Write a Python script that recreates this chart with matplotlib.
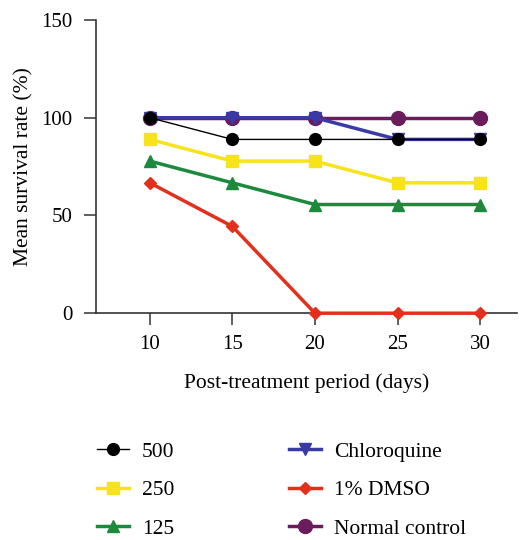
import matplotlib; matplotlib.use("Agg")
import matplotlib.pyplot as plt

plt.rcParams["font.family"] = ["Liberation Serif", "DejaVu Serif"]

days = [10, 15, 20, 25, 30]
d500 = [100, 88.9, 88.9, 88.9, 88.9]
d250 = [88.9, 77.8, 77.8, 66.7, 66.7]
d125 = [77.8, 66.7, 55.6, 55.6, 55.6]
chloroquine = [100, 100, 100, 88.9, 88.9]
dmso = [66.7, 44.4, 0, 0, 0]
normal = [100, 100, 100, 100, 100]

BLACK = "#000000"; YELLOW = "#F6E31B"; GREEN = "#1C8A3C"
BLUE = "#3A3AA6"; RED = "#E2301C"; PURPLE = "#6A1C5C"

fig = plt.figure(figsize=(5.32, 5.40), dpi=100)
ax = fig.add_axes([0.180, 0.420, 0.792, 0.543])

h_norm, = ax.plot(days, normal, color=PURPLE, lw=2.5, marker="o", ms=10, clip_on=False, zorder=3, label="Normal control")
h_chl, = ax.plot(days, chloroquine, color=BLUE, lw=2.5, marker="v", ms=9, clip_on=False, zorder=4, label="Chloroquine")
h_dmso, = ax.plot(days, dmso, color=RED, lw=2.5, marker="D", ms=6.5, clip_on=False, zorder=5, label="1% DMSO")
h125, = ax.plot(days, d125, color=GREEN, lw=2.5, marker="^", ms=9, clip_on=False, zorder=5, label="125")
h250, = ax.plot(days, d250, color=YELLOW, lw=2.5, marker="s", ms=9, clip_on=False, zorder=5, label="250")
h500, = ax.plot(days, d500, color=BLACK, lw=1.0, marker="o", ms=8.5, clip_on=False, zorder=6, label="500")

ax.set_xlim(6.73, 32.24)
ax.set_ylim(0, 150)
ax.set_xticks(days)
ax.set_yticks([0, 50, 100, 150])
ax.spines[["top", "right"]].set_visible(False)
for s in ["left", "bottom"]:
    ax.spines[s].set_color("#333333")
    ax.spines[s].set_linewidth(1.2)
ax.tick_params(direction="out", length=8.6, width=1.1, color="#333333", labelsize=15)
ax.tick_params(axis="x", pad=7)
ax.tick_params(axis="y", pad=8)
ax.set_xlabel("Post-treatment period (days)", fontsize=15.5, labelpad=14)
ax.set_ylabel("Mean survival rate (%)", fontsize=15.5, labelpad=6)

handles = [h500, h250, h125, h_chl, h_dmso, h_norm]
fig.legend(handles, [h.get_label() for h in handles], ncol=2, loc="upper left",
           bbox_to_anchor=(0.145, 0.218), frameon=False, fontsize=15.5,
           handlelength=1.5, columnspacing=5.33, labelspacing=0.86, handletextpad=0.6)

fig.savefig("out.png", dpi=100)
